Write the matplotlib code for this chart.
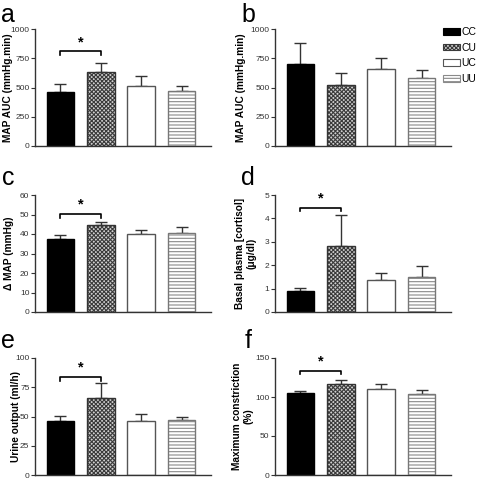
import matplotlib
matplotlib.use('Agg')
import matplotlib.pyplot as plt
from matplotlib.patches import Patch

plt.rcParams['font.family'] = ['Liberation Sans', 'DejaVu Sans']
plt.rcParams['hatch.linewidth'] = 0.8

groups = ['CC', 'CU', 'UC', 'UU']

map_auc_a = [463, 631, 511, 469]
map_auc_a_err = [66, 78, 89, 48]
map_auc_b = [697, 523, 660, 577]
map_auc_b_err = [183, 97, 91, 69]
delta_map = [37.2, 44.8, 40.2, 40.7]
delta_map_err = [2.5, 1.5, 1.9, 2.9]
cortisol = [0.88, 2.83, 1.35, 1.49]
cortisol_err = [0.13, 1.33, 0.31, 0.46]
urine = [46.3, 65.4, 46.0, 47.4]
urine_err = [4.3, 12.9, 6.3, 2.6]
constriction = [105, 116.5, 110, 103.5]
constriction_err = [2.3, 5.0, 6.5, 5.0]

panel_letters = ['a', 'b', 'c', 'd', 'e', 'f']
ylabels = ['MAP AUC (mmHg.min)', 'MAP AUC (mmHg.min)', '\u0394 MAP (mmHg)',
           'Basal plasma [cortisol]\n(\u03bcg/dl)', 'Urine output (ml/h)',
           'Maximum constriction\n(%)']
yticks = [[0, 250, 500, 750, 1000], [0, 250, 500, 750, 1000],
          [0, 10, 20, 30, 40, 50, 60], [0, 1, 2, 3, 4, 5],
          [0, 25, 50, 75, 100], [0, 50, 100, 150]]
means = [map_auc_a, map_auc_b, delta_map, cortisol, urine, constriction]
errs = [map_auc_a_err, map_auc_b_err, delta_map_err, cortisol_err, urine_err, constriction_err]
sig = [True, False, True, True, True, True]
sig_y = [809, None, 50.1, 4.46, 83.7, 133.8]

faces = ['black', '#d0d0d0', 'white', 'white']
hatches = [None, 'xxxxxxxx', None, '-----']
hatch_cols = [None, '#3a3a3a', None, '#8a8a8a']
edges = ['black', '#333333', '#555555', '#777777']

W, H = 480, 482
fig = plt.figure(figsize=(4.8, 4.82), dpi=100)

lefts = [35, 275]
bottoms = [146, 312, 475]
aw, ah = 176, 117
ylab_x = [8, 241, 9, 246, 16, 243]
letter_pos = [(8, 22), (248, 22), (8, 185), (248, 185), (8, 348), (248, 348)]

x = [0, 1, 2, 3]
bw = 0.68
for i in range(6):
    r, c = divmod(i, 2)
    ax = fig.add_axes([lefts[c] / W, 1 - bottoms[r] / H, aw / W, ah / H])
    m, e = means[i], errs[i]
    for j in range(4):
        if hatches[j]:
            ax.bar(x[j], m[j], bw, color=faces[j], hatch=hatches[j],
                   edgecolor=hatch_cols[j], linewidth=0, zorder=2)
            ax.bar(x[j], m[j], bw, fill=False, edgecolor=edges[j], linewidth=1.0, zorder=3)
        else:
            ax.bar(x[j], m[j], bw, color=faces[j], edgecolor=edges[j], linewidth=1.0, zorder=2)
    ax.errorbar(x, m, yerr=[[0] * 4, e], fmt='none', ecolor='#333333',
                elinewidth=1.0, capsize=4, capthick=1.0, zorder=1)
    yt = yticks[i]
    ax.set_ylim(0, yt[-1])
    ax.set_xlim(-0.63, 3.73)
    ax.set_yticks(yt)
    ax.set_xticks([])
    ax.tick_params(axis='y', labelsize=6, length=3, width=0.8, colors='#333333', pad=1)
    for s in ['top', 'right']:
        ax.spines[s].set_visible(False)
    for s in ['left', 'bottom']:
        ax.spines[s].set_linewidth(1.0)
        ax.spines[s].set_color('#333333')
    if sig[i]:
        top = yt[-1]
        yb = sig_y[i]
        d = top * 0.03
        ax.plot([x[0], x[0], x[1], x[1]], [yb - d, yb, yb, yb - d], color='black',
                lw=1.2, clip_on=False, zorder=4)
        ax.text((x[0] + x[1]) / 2, yb + top * 0.02, '*', ha='center', va='bottom',
                fontsize=10.5, fontweight='bold')
    cy = bottoms[r] - ah / 2
    fig.text(ylab_x[i] / W, 1 - cy / H, ylabels[i], rotation=90, ha='center',
             va='center', fontsize=7.3, fontweight='bold', multialignment='center',
             linespacing=1.15)
    lx, ly = letter_pos[i]
    fig.text(lx / W, 1 - ly / H, panel_letters[i], ha='center', va='baseline', fontsize=18)

handles = []
for j in range(4):
    handles.append(Patch(facecolor=faces[j], hatch=hatches[j],
                         edgecolor=hatch_cols[j] if hatches[j] else edges[j],
                         linewidth=0.8))
fig.legend(handles, groups, loc='upper left', bbox_to_anchor=(443 / W, 1 - 27 / H),
           frameon=False, fontsize=7.5, handlelength=1.6, handleheight=0.6,
           handletextpad=0.15, labelspacing=0.55, borderaxespad=0, borderpad=0)

fig.savefig('out.png', dpi=100)
